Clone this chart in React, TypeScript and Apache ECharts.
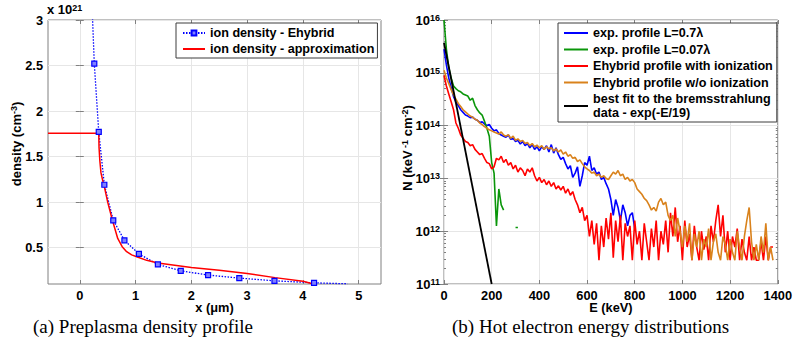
import React, { useEffect, useRef } from 'react';
import * as echarts from 'echarts';

const FONT = '"Liberation Sans", Arial, Helvetica, sans-serif';
const SERIF = '"Liberation Serif", "Times New Roman", serif';

// ---------- (a) Preplasma density profile ----------
const ehybridX = [0.22, 0.26, 0.34, 0.44, 0.6, 0.8, 1.06, 1.4, 1.81, 2.3, 2.86, 3.49, 4.2, 4.8];
const ehybridY = [3.15, 2.52, 1.77, 1.19, 0.8, 0.58, 0.43, 0.315, 0.245, 0.198, 0.165, 0.135, 0.113, 0.102];
const approxX = [-0.57, 0.34, 0.345, 0.36, 0.38, 0.41, 0.44, 0.5, 0.585, 0.68, 0.76, 0.84, 0.93, 1.02, 1.2, 1.4, 2.0, 2.5, 3.0, 3.5, 4.0, 4.19];
const approxY = [1.755, 1.755, 1.6, 1.45, 1.32, 1.24, 1.17, 1.0, 0.8, 0.6, 0.51, 0.455, 0.42, 0.4, 0.36, 0.33, 0.28, 0.25, 0.215, 0.17, 0.13, 0.1];
const leftXTicks = [0, 1, 2, 3, 4, 5];
const leftYTicks = [0.5, 1, 1.5, 2, 2.5, 3];

// ---------- (b) Hot electron energy distributions ----------
const energyKeV = [
  0, 10, 20, 30, 40, 50, 60, 70, 80, 90,
  100, 110, 120, 130, 140, 150, 160, 170, 180, 190,
  200, 210, 220, 230, 240, 250, 260, 270, 280, 290,
  300, 310, 320, 330, 340, 350, 360, 370, 380, 390,
  400, 410, 420, 430, 440, 450, 460, 470, 480, 490,
  500, 510, 520, 530, 540, 550, 560, 570, 580, 590,
  600, 610, 620, 630, 640, 650, 660, 670, 680, 690,
  700, 710, 720, 730, 740, 750, 760, 770, 780, 790,
  800, 810, 820, 830, 840, 850, 860, 870, 880, 890,
  900, 910, 920, 930, 940, 950, 960, 970, 980, 990,
  1000, 1010, 1020, 1030, 1040, 1050, 1060, 1070, 1080, 1090,
  1100, 1110, 1120, 1130, 1140, 1150, 1160, 1170, 1180, 1190,
  1200, 1210, 1220, 1230, 1240, 1250, 1260, 1270, 1280, 1290,
  1300, 1310, 1320, 1330, 1340, 1350, 1360, 1370, 1380,
];
// log10(N) values on the energy grid
const blueLogN = [
  15.45, 15.15, 14.9, 14.72, 14.55, 14.45, 14.38, 14.3, 14.25, 14.2,
  14.18, 14.15, 14.16, 14.12, 14.1, 14.06, 14.07, 14.03, 14.0, 14.02,
  13.95, 13.9, 13.92, 13.85, 13.82, 13.8, 13.78, 13.82, 13.74, 13.76,
  13.7, 13.72, 13.65, 13.7, 13.62, 13.66, 13.58, 13.64, 13.55, 13.6,
  13.52, 13.6, 13.55, 13.62, 13.5, 13.64, 13.48, 13.58, 13.45, 13.36,
  13.4, 13.28, 13.18, 13.24, 13.02, 13.1, 13.22, 12.85, 13.05, 13.3,
  13.25, 13.42, 13.15, 13.2, 13.08, 13.12, 12.98, 13.02, 12.9, 12.8,
  12.6, 12.3, 12.6, 12.45, 12.2, 12.5, 12.35, 12.1, 12.3, 12.35,
  12.05,
];
const greenLogN = [
  16.0, 15.45, 15.1, 14.9, 14.75, 14.7, 14.66, 14.64, 14.6, 14.58,
  14.56, 14.48, 14.52, 14.38, 14.3, 14.24, 14.2, 14.08, 13.95, 13.8,
  13.3, 13.1, 12.1, 12.8, 12.5, 12.4, null, null, null, null,
  12.07, 12.07,
];
const redLogN = [
  14.95, 14.75, 14.6, 14.45, 14.3, 14.05, 13.95, 13.82, 13.76, 13.7,
  13.68, 13.62, 13.64, 13.55, 13.5, 13.45, 13.47, 13.38, 13.3, 13.28,
  13.18, 13.22, 13.38, 13.35, 13.42, 13.3, 13.36, 13.25, 13.3, 13.18,
  13.25, 13.12, 13.2, 13.15, 13.05, 13.18, 13.12, 13.2, 13.05, 12.95,
  13.02, 12.92, 12.98, 12.88, 12.95, 12.85, 12.92, 12.8, 12.86, 12.78,
  12.85, 12.72, 12.8, 12.68, 12.75, 12.6, 12.5, 12.35, 12.45, 12.2,
  12.3, 11.9, 12.2, 11.75, 12.15, 11.45, 12.1, 11.7, 12.25, 11.85,
  12.35, 11.5, 12.2, 11.8, 12.3, 11.45, 12.15, 11.9, 12.1, 11.45,
  12.2, 11.75, 12.0, 11.45, 12.15, 11.8, 11.45, 12.05, 11.7, 12.2,
  11.45, 12.0, 11.75, 12.2, 11.6, 12.35, 11.9, 12.45, 11.8, 12.1,
  11.45, 12.2, 11.7, 11.95, 11.45, 12.1, 11.7, 11.45, 12.0, 11.65,
  11.9, 11.45, 12.1, 11.8, 12.2, 12.5, 11.9, 12.3, 11.6, 12.0,
  11.45, 11.9, 11.7, 12.05, 11.45, 11.85, 11.6, 11.45, 11.9, 11.45,
  11.7, 11.45, 11.45, 11.8, 11.45, 11.9, 11.45, 11.7, 11.7,
];
const orangeLogN = [
  15.05, 14.9, 14.8, 14.68, 14.58, 14.5, 14.42, 14.36, 14.3, 14.26,
  14.22, 14.18, 14.16, 14.12, 14.1, 14.05, 14.02, 13.98, 13.95, 13.92,
  13.9, 13.88, 13.86, 13.84, 13.88, 13.82, 13.8, 13.83, 13.76, 13.8,
  13.72, 13.75, 13.7, 13.72, 13.66, 13.68, 13.62, 13.66, 13.6, 13.63,
  13.58, 13.62, 13.55, 13.6, 13.56, 13.58, 13.52, 13.56, 13.5, 13.54,
  13.46, 13.5, 13.42, 13.45, 13.38, 13.4, 13.32, 13.35, 13.28, 13.22,
  13.18, 13.15, 13.1, 13.12, 13.05, 13.08, 13.02, 13.05, 13.0, 12.98,
  13.05, 13.12, 13.08, 13.15, 13.05, 13.08, 12.98, 13.02, 12.95, 12.98,
  12.92, 12.8, 12.75, 12.7, 12.62, 12.58, 12.5, 12.4, 12.45, 12.38,
  12.55, 12.62, 12.5, 12.55, 12.3, 12.2, 12.3, 11.9, 12.25, 12.0,
  11.7, 12.1, 11.8, 12.15, 11.45, 11.95, 11.7, 12.0, 11.45, 11.85,
  11.7, 12.05, 11.45, 11.8, 11.95, 11.6, 11.45, 11.9, 11.75, 11.45,
  11.85, 11.6, 11.45, 12.0, 11.7, 11.45, 11.9, 12.2, 12.45, 11.8,
  11.45, 11.75, 11.45, 11.9, 11.6, 12.15, 11.45, 11.7, 11.45,
];
const fitE = [0, 200];
const fitLogN = [15.57, 11.0];
const decadeMin = 11;
const decadeMax = 16;

const leftLegendNames = ['ion density - Ehybrid', 'ion density - approximation'];
const rightLegendNames = [
  'exp. profile L=0.7\u03bb',
  'exp. profile L=0.07\u03bb',
  'Ehybrid profile with ionization',
  'Ehybrid profile w/o ionization',
  'best fit to the bremsstrahlung\ndata - exp(-E/19)',
];

const pairs = (xs: number[], ys: (number | null)[]) => ys.map((y, i) => [xs[i], y]);
const logPairs = (xs: number[], ys: (number | null)[]) =>
  ys.map((y, i) => [xs[i], y == null ? '-' : Math.pow(10, y)]);

const minorLog: number[] = [];
for (let k = decadeMin; k < decadeMax; k++) {
  for (let m = 2; m <= 9; m++) minorLog.push(k + Math.log10(m));
}

const GRID_COLOR = '#e6e6e6';
const FRAME = '#808080';

const tickLabel = { fontFamily: FONT, fontWeight: 'bold', fontSize: 12.8, lineHeight: 12, color: '#000' };
const richAxis = {
  b: { fontFamily: FONT, fontWeight: 'bold', fontSize: 13, lineHeight: 13, padding: [5, 0, 0, 0], verticalAlign: 'bottom', color: '#000' },
  s: { fontFamily: FONT, fontWeight: 'bold', fontSize: 9, lineHeight: 9, verticalAlign: 'top', color: '#000' },
};
const richGraphic = {
  b: { fontFamily: FONT, fontWeight: 'bold', fontSize: 13, lineHeight: 13, padding: [5, 0, 0, 0], verticalAlign: 'bottom', fill: '#000' },
  s: { fontFamily: FONT, fontWeight: 'bold', fontSize: 9, lineHeight: 9, verticalAlign: 'top', fill: '#000' },
};
const legendText = { fontFamily: FONT, fontWeight: 'bold', fontSize: 12.6, lineHeight: 14, color: '#000' };

function buildOption() {
  const tickOnly = (extra: any) => ({
    axisLine: { show: false },
    axisLabel: { show: false },
    splitLine: { show: false },
    ...extra,
  });
  return {
    animation: false,
    backgroundColor: '#fff',
    grid: [
      { left: 48, top: 20, width: 333, height: 264, show: true, borderColor: FRAME, borderWidth: 1, backgroundColor: '#fff' },
      { left: 444, top: 20, width: 335, height: 264, show: true, borderColor: FRAME, borderWidth: 1, backgroundColor: '#fff' },
    ],
    xAxis: [
      {
        gridIndex: 0, type: 'value', min: -0.57, max: 5.4,
        axisLine: { show: false },
        axisTick: { show: true, inside: true, length: 4, customValues: leftXTicks, lineStyle: { color: FRAME } },
        axisLabel: { ...tickLabel, margin: 5, customValues: leftXTicks, formatter: (v: number) => String(v) },
        splitLine: { show: true, lineStyle: { color: GRID_COLOR, width: 1 } },
        name: 'x (\u03bcm)', nameLocation: 'middle', nameGap: 17, nameMoveOverlap: false,
        nameTextStyle: { ...tickLabel, verticalAlign: 'top' },
      },
      tickOnly({
        gridIndex: 0, type: 'value', min: -0.57, max: 5.4, position: 'top',
        axisTick: { show: true, inside: true, length: 4, customValues: leftXTicks, lineStyle: { color: FRAME } },
      }),
      {
        gridIndex: 1, type: 'value', min: 0, max: 1400, interval: 200,
        axisLine: { show: false },
        axisTick: { show: true, inside: true, length: 4, lineStyle: { color: FRAME } },
        axisLabel: { ...tickLabel, margin: 5, formatter: (v: number) => String(v) },
        splitLine: { show: true, lineStyle: { color: GRID_COLOR, width: 1 } },
        name: 'E (keV)', nameLocation: 'middle', nameGap: 17, nameMoveOverlap: false,
        nameTextStyle: { ...tickLabel, verticalAlign: 'top' },
      },
      tickOnly({
        gridIndex: 1, type: 'value', min: 0, max: 1400, interval: 200, position: 'top',
        axisTick: { show: true, inside: true, length: 4, lineStyle: { color: FRAME } },
      }),
    ],
    yAxis: [
      {
        gridIndex: 0, type: 'value', min: 0.1, max: 3,
        axisLine: { show: false },
        axisTick: { show: true, inside: true, length: 4, customValues: leftYTicks, lineStyle: { color: FRAME } },
        axisLabel: { ...tickLabel, margin: 5, customValues: leftYTicks },
        splitLine: { show: true, lineStyle: { color: GRID_COLOR, width: 1 } },
      },
      tickOnly({
        gridIndex: 0, type: 'value', min: 0.1, max: 3, position: 'right',
        axisTick: { show: true, inside: true, length: 4, customValues: leftYTicks, lineStyle: { color: FRAME } },
      }),
      {
        gridIndex: 1, type: 'log', logBase: 10, min: Math.pow(10, decadeMin), max: Math.pow(10, decadeMax),
        axisLine: { show: false },
        axisTick: { show: true, inside: true, length: 4, lineStyle: { color: FRAME } },
        axisLabel: {
          margin: 4,
          formatter: (v: number) => '{b|10}{s|' + Math.round(Math.log10(v)) + '}',
          rich: richAxis,
        },
        splitLine: { show: true, lineStyle: { color: GRID_COLOR, width: 1 } },
      },
      tickOnly({
        gridIndex: 1, type: 'log', logBase: 10, min: Math.pow(10, decadeMin), max: Math.pow(10, decadeMax), position: 'right',
        axisTick: { show: true, inside: true, length: 4, lineStyle: { color: FRAME } },
      }),
      tickOnly({
        gridIndex: 1, type: 'value', min: decadeMin, max: decadeMax, position: 'left',
        axisTick: { show: true, inside: true, length: 2, customValues: minorLog, lineStyle: { color: FRAME } },
      }),
      tickOnly({
        gridIndex: 1, type: 'value', min: decadeMin, max: decadeMax, position: 'right',
        axisTick: { show: true, inside: true, length: 2, customValues: minorLog, lineStyle: { color: FRAME } },
      }),
    ],
    legend: [
      {
        data: [
          { name: leftLegendNames[0] },
          { name: leftLegendNames[1], itemStyle: { opacity: 0 } },
        ],
        left: 176, top: 23, orient: 'vertical',
        itemWidth: 22, itemHeight: 6, itemGap: 2,
        padding: [3, 3, 2, 6],
        borderColor: '#3c3c3c', borderWidth: 1, backgroundColor: '#fff',
        textStyle: legendText,
      },
      {
        data: rightLegendNames.map((n) => ({ name: n, itemStyle: { opacity: 0 } })),
        left: 558, top: 23, orient: 'vertical',
        itemWidth: 24, itemHeight: 6, itemGap: 2.5,
        padding: [3, 4, 2, 5],
        borderColor: '#3c3c3c', borderWidth: 1, backgroundColor: '#fff',
        textStyle: legendText,
      },
    ],
    series: [
      {
        type: 'line', name: leftLegendNames[0], xAxisIndex: 0, yAxisIndex: 0,
        data: pairs(ehybridX, ehybridY).map((p, i) =>
          i === 0 || i === ehybridX.length - 1 ? { value: p, symbol: 'none' } : { value: p }),
        symbol: 'rect', symbolSize: 5, showSymbol: true,
        lineStyle: { color: '#0000ff', type: [1.5, 1.5], width: 1.3 },
        itemStyle: { color: '#8080ff', borderColor: '#0000ff', borderWidth: 1.2 },
        color: '#0000ff',
      },
      {
        type: 'line', name: leftLegendNames[1], xAxisIndex: 0, yAxisIndex: 0,
        data: pairs(approxX, approxY), symbol: 'none',
        lineStyle: { color: '#ff0000', width: 1.5 }, itemStyle: { color: '#ff0000' }, color: '#ff0000',
      },
      {
        type: 'line', name: rightLegendNames[0], xAxisIndex: 2, yAxisIndex: 2,
        data: logPairs(energyKeV, blueLogN), symbol: 'none',
        lineStyle: { color: '#0000ff', width: 1.6 }, itemStyle: { color: '#0000ff' }, color: '#0000ff',
      },
      {
        type: 'line', name: rightLegendNames[1], xAxisIndex: 2, yAxisIndex: 2,
        data: logPairs(energyKeV, greenLogN), symbol: 'none',
        lineStyle: { color: '#0a960a', width: 1.6 }, itemStyle: { color: '#0a960a' }, color: '#0a960a',
      },
      {
        type: 'line', name: rightLegendNames[2], xAxisIndex: 2, yAxisIndex: 2,
        data: logPairs(energyKeV, redLogN), symbol: 'none',
        lineStyle: { color: '#ff0000', width: 1.6 }, itemStyle: { color: '#ff0000' }, color: '#ff0000',
      },
      {
        type: 'line', name: rightLegendNames[3], xAxisIndex: 2, yAxisIndex: 2,
        data: logPairs(energyKeV, orangeLogN), symbol: 'none',
        lineStyle: { color: '#d9821c', width: 1.6 }, itemStyle: { color: '#d9821c' }, color: '#d9821c',
      },
      {
        type: 'line', name: rightLegendNames[4], xAxisIndex: 2, yAxisIndex: 2,
        data: logPairs(fitE, fitLogN), symbol: 'none',
        lineStyle: { color: '#000000', width: 1.8 }, itemStyle: { color: '#000000' }, color: '#000000',
      },
    ],
    graphic: [
      {
        type: 'text', x: 47, y: 3,
        style: { text: '{b|x 10}{s|21}', rich: richGraphic, align: 'left', verticalAlign: 'top' },
      },
      {
        type: 'text', x: 16, y: 144, rotation: Math.PI / 2,
        style: { text: '{b|density (cm}{s|-3}{b|)}', rich: richGraphic, align: 'center', verticalAlign: 'middle' },
      },
      {
        type: 'text', x: 407, y: 148, rotation: Math.PI / 2,
        style: { text: '{b|N (keV}{s| -1}{b| cm}{s|-2}{b|)}', rich: richGraphic, align: 'center', verticalAlign: 'middle' },
      },
      {
        type: 'text', x: 33, y: 326,
        style: { text: '(a) Preplasma density profile', fontFamily: SERIF, fontSize: 19, fill: '#000', align: 'left', verticalAlign: 'middle' },
      },
      {
        type: 'text', x: 452, y: 326,
        style: { text: '(b) Hot electron energy distributions', fontFamily: SERIF, fontSize: 19, fill: '#000', align: 'left', verticalAlign: 'middle' },
      },
    ],
  };
}

export default function App() {
  const ref = useRef<HTMLDivElement>(null);
  useEffect(() => {
    document.body.style.margin = '0';
    if (!ref.current) return;
    const chart = echarts.init(ref.current, null, { renderer: 'svg' });
    chart.setOption(buildOption() as any);
    return () => chart.dispose();
  }, []);
  return <div ref={ref} style={{ width: 795, height: 355 }} />;
}
